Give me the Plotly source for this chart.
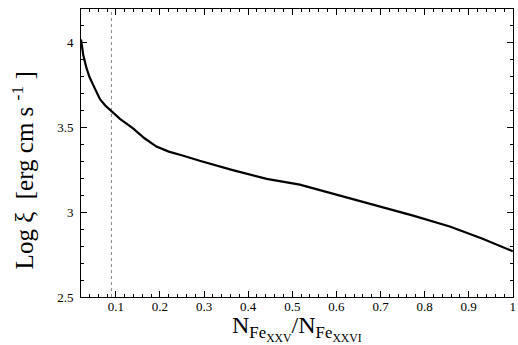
import plotly.graph_objects as go

# data
ratio = [0.021, 0.026, 0.033, 0.04, 0.048, 0.056, 0.064, 0.076, 0.09, 0.11, 0.139, 0.165, 0.192,
         0.22, 0.253, 0.29, 0.365, 0.442, 0.517, 0.57, 0.63, 0.7, 0.774, 0.857, 0.93, 1.0]
log_xi = [4.02, 3.93, 3.855, 3.80, 3.755, 3.71, 3.668, 3.63, 3.595, 3.55, 3.495, 3.437, 3.388,
          3.358, 3.334, 3.304, 3.249, 3.197, 3.163, 3.125, 3.083, 3.035, 2.98, 2.916, 2.845, 2.77]
marker_x = [0.09, 0.09]
marker_y = [2.5, 4.2]

FONT = "Liberation Serif"

fig = go.Figure()
fig.add_trace(go.Scatter(x=marker_x, y=marker_y, mode="lines",
                         line=dict(color="#888888", width=1, dash="dot"),
                         showlegend=False, hoverinfo="skip"))
fig.add_trace(go.Scatter(x=ratio, y=log_xi, mode="lines",
                         line=dict(color="black", width=2.2),
                         showlegend=False))

axis_common = dict(showgrid=False, zeroline=False, showline=True, linecolor="black",
                   linewidth=1, mirror="allticks", ticks="inside", ticklen=6,
                   tickcolor="black", tickwidth=1, automargin=False,
                   ticklabeloverflow="allow",
                   tickfont=dict(family=FONT, size=13, color="black"))

fig.update_xaxes(range=[0.021, 1.0004], tickmode="linear", tick0=0, dtick=0.1,
                 minor=dict(dtick=0.02, tick0=0, ticks="inside", ticklen=3, tickcolor="black"),
                 ticklabelstandoff=-3,
                 **axis_common)
fig.update_yaxes(range=[2.5, 4.2], tickmode="linear", tick0=0, dtick=0.5,
                 minor=dict(dtick=0.1, tick0=0, ticks="inside", ticklen=3, tickcolor="black"),
                 ticklabelstandoff=4,
                 **axis_common)

fig.add_annotation(text="N<sub>Fe<sub>XXV</sub></sub>/N<sub>Fe<sub>XXVI</sub></sub>",
                   xref="paper", yref="paper", x=0.5, y=-0.045, xanchor="center", yanchor="top",
                   showarrow=False, font=dict(family=FONT, size=24, color="black"))
fig.add_annotation(text="Log ξ  [erg cm s <sup>-1</sup> ]",
                   xref="paper", yref="paper", x=-0.134, y=0.44, xanchor="center", yanchor="middle",
                   textangle=-90, showarrow=False,
                   font=dict(family=FONT, size=25, color="black"))

fig.update_layout(width=518, height=345, margin=dict(l=81, r=5, t=9, b=48),
                  plot_bgcolor="white", paper_bgcolor="white",
                  font=dict(family=FONT, color="black"))

fig.write_html("out.html", config={"displayModeBar": False},
               post_script="document.body.style.margin='0';document.body.style.overflow='hidden';")
